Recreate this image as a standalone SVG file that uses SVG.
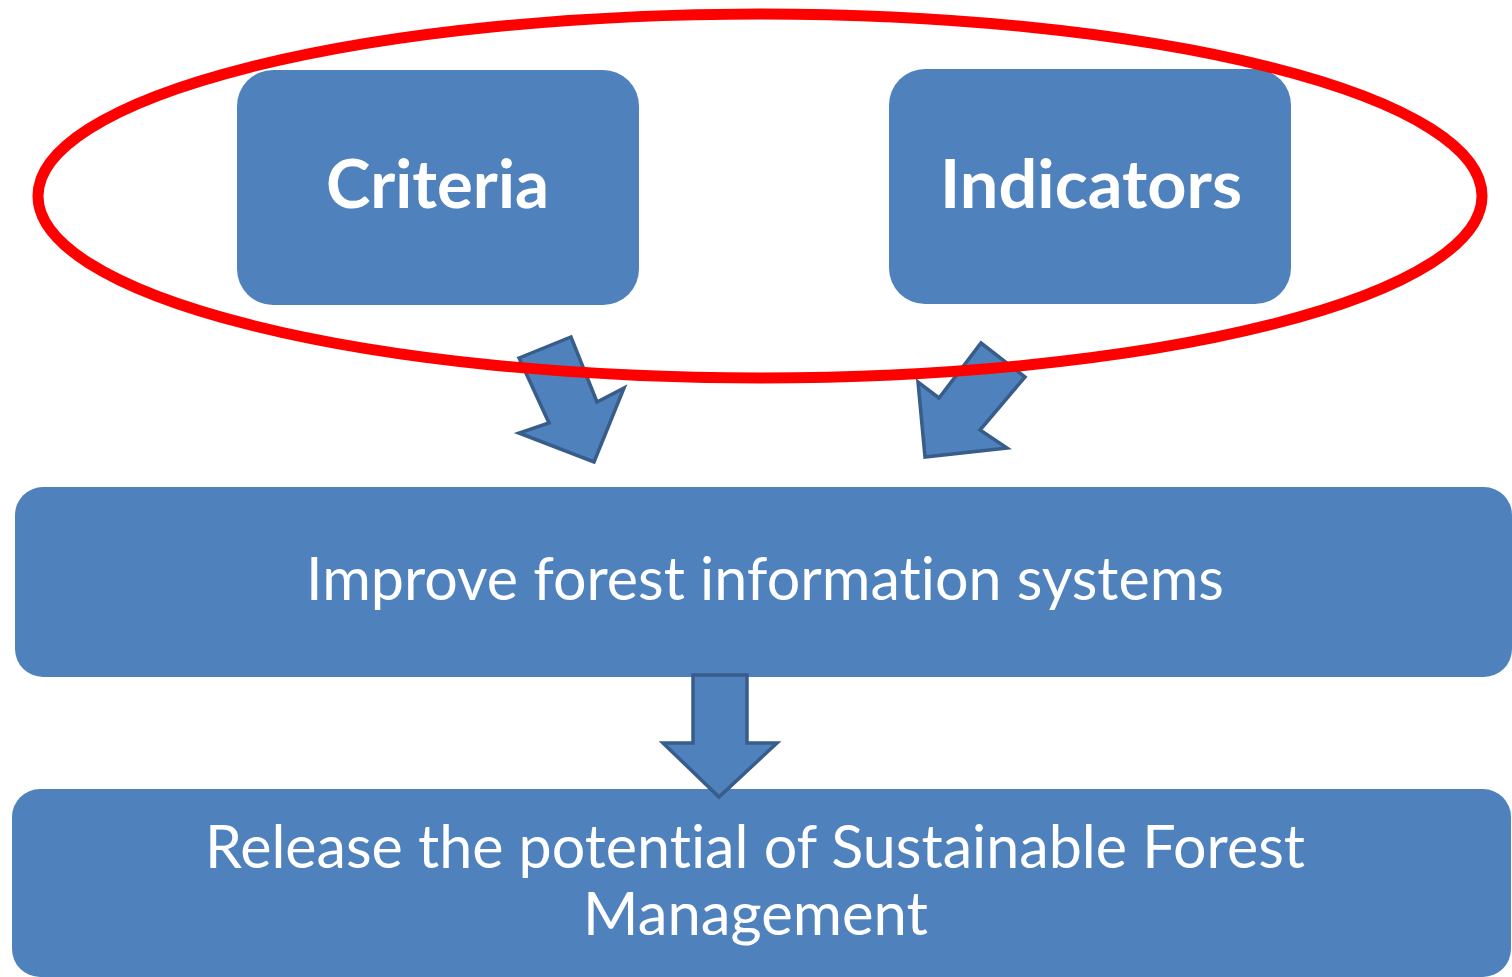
<svg xmlns="http://www.w3.org/2000/svg" width="1512" height="977" viewBox="0 0 1512 977">
<style>
.box{fill:#4F81BD;}
.arrow{fill:#4F81BD;stroke:#385D8A;stroke-width:3.5;stroke-linejoin:miter;}
.t{fill:#FFFFFF;font-family:Lato,"Open Sans","Liberation Sans",sans-serif;text-anchor:middle;font-variant-ligatures:none;font-feature-settings:"liga" 0;}
.b{font-weight:bold;font-size:66px;}
.n{font-size:60px;}
</style>
<rect width="1512" height="977" fill="#FFFFFF"/>
<g id="node-criteria">
<rect class="box" x="237" y="70" width="402" height="235" rx="36"/>
<text class="t b" x="437.5" y="208" textLength="223" lengthAdjust="spacingAndGlyphs">Criteria</text>
</g>
<g id="node-indicators">
<rect class="box" x="889" y="69" width="402" height="235" rx="36"/>
<text class="t b" x="1091" y="208" textLength="302" lengthAdjust="spacingAndGlyphs">Indicators</text>
</g>
<g id="node-improve">
<rect class="box" x="15" y="487" width="1497" height="190" rx="28"/>
<text class="t n" x="765" y="600" textLength="918" lengthAdjust="spacingAndGlyphs">Improve forest information systems</text>
</g>
<g id="node-release">
<rect class="box" x="12" y="789" width="1499" height="188" rx="28"/>
<text class="t n" x="755" y="868" textLength="1100" lengthAdjust="spacingAndGlyphs">Release the potential of Sustainable Forest</text>
<text class="t n" x="755.5" y="935" textLength="345" lengthAdjust="spacingAndGlyphs">Management</text>
</g>
<g id="connectors">
<polygon class="arrow" points="693,675 747,675 747,743 777,743 719,797 663,743 693,743"/>
<polygon class="arrow" points="519,358 571,337 597,402 624,388 594,462 519,433 549,423"/>
<polygon class="arrow" points="981,343 1025,377 980,430 1007,448 925,457 918,382 939,398"/>
</g>
<g id="highlight">
<ellipse cx="760" cy="196" rx="722" ry="182" fill="none" stroke="#FF0000" stroke-width="11"/>
</g>
</svg>
